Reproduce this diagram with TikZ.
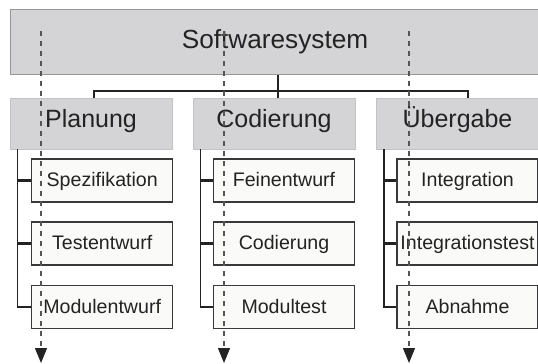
\documentclass[tikz,border=0pt]{standalone}
\usepackage{fontspec}
\setmainfont{Liberation Sans}
\usetikzlibrary{arrows.meta}
\definecolor{boxgray}{RGB}{212,212,214}
\definecolor{rimgray}{RGB}{150,150,150}
\definecolor{lightrim}{RGB}{195,195,197}
\definecolor{paper}{RGB}{250,250,248}
\definecolor{ink}{RGB}{35,35,35}
\definecolor{dashgray}{RGB}{85,85,85}
\tikzset{
  rootbox/.style={draw=rimgray, line width=0.9pt, fill=boxgray, inner sep=0pt,
    minimum width=530pt, minimum height=65pt, text=ink,
    text height=18pt, text depth=5.8pt,
    font=\fontsize{26.2}{30}\selectfont},
  phasebox/.style={draw=lightrim, line width=0.8pt, fill=boxgray, inner sep=0pt,
    minimum width=162pt, minimum height=51pt, text=ink,
    text height=15pt, text depth=7.4pt,
    font=\fontsize{25}{28}\selectfont},
  taskbox/.style={draw=ink!90, line width=1.1pt, fill=paper, inner sep=0pt,
    minimum width=141pt, minimum height=43pt, text=ink,
    text height=14pt, text depth=1.6pt,
    font=\fontsize{19.6}{23}\selectfont},
  tree/.style={draw=ink, line width=1.2pt},
  stub/.style={draw=ink, line width=2.2pt},
  flow/.style={draw=dashgray, line width=1.2pt, dash pattern=on 5pt off 5pt,
    -{Triangle[length=15pt, width=12pt, color=ink]}}
}
\begin{document}
\begin{tikzpicture}[x=1pt, y=-1pt]
\useasboundingbox (0,0) rectangle (538,364);
\clip (0,0) rectangle (538,364);

% root and phases
\node[rootbox] (root) at (275,42.2) {Softwaresystem};
\node[phasebox] (plan) at (91,123.5) {Planung};
\node[phasebox] (cod) at (274,123.5) {Codierung};
\node[phasebox] (ueb) at (457.5,123.5) {Übergabe};

% tasks of each phase
\node[taskbox] (p1) at (102.2,180.5) {Spezifikation};
\node[taskbox] (p2) at (102.2,243.5) {Testentwurf};
\node[taskbox] (p3) at (102.2,307) {Modulentwurf};
\node[taskbox] (c1) at (284,180.5) {Feinentwurf};
\node[taskbox] (c2) at (284,243.5) {Codierung};
\node[taskbox] (c3) at (284,307) {Modultest};
\node[taskbox] (u1) at (467.5,180.5) {Integration};
\node[taskbox] (u2) at (467.5,243.5) {Integrationstest};
\node[taskbox] (u3) at (467.5,307) {Abnahme};

% root to phases
\coordinate (bus) at (278,91);
\coordinate (busL) at (94,91);
\coordinate (busR) at (468,91);
\draw[tree, line width=1.1pt] (bus |- root.south) -- (bus |- cod.north);
\draw[tree, line width=1.1pt] (busL |- plan.north) -- (busL) -- (busR) -- (busR |- ueb.north);

% phase trees
\coordinate (tp) at (17.2,0);
\coordinate (tc) at (200.8,0);
\coordinate (tu) at (384,0);
\draw[tree] (tp |- plan.south) |- (p3.west);
\draw[stub] (tp |- p1.west) -- (p1.west);
\draw[stub] (tp |- p2.west) -- (p2.west);
\draw[tree] (tc |- cod.south) |- (c3.west);
\draw[stub] (tc |- c1.west) -- (c1.west);
\draw[stub] (tc |- c2.west) -- (c2.west);
\draw[tree] (tu |- ueb.south) |- (u3.west);
\draw[stub] (tu |- u1.west) -- (u1.west);
\draw[stub] (tu |- u2.west) -- (u2.west);

% flow of time through each phase
\coordinate (fp0) at (41,31);   \coordinate (fp1) at (41,363);
\coordinate (fc0) at (224,31);  \coordinate (fc1) at (224,363);
\coordinate (fu0) at (409,31);  \coordinate (fu1) at (409,363);
\draw[flow] (fp0) -- (fp1);
\draw[flow] (fc0) -- (fc1);
\draw[flow] (fu0) -- (fu1);
\end{tikzpicture}
\end{document}
